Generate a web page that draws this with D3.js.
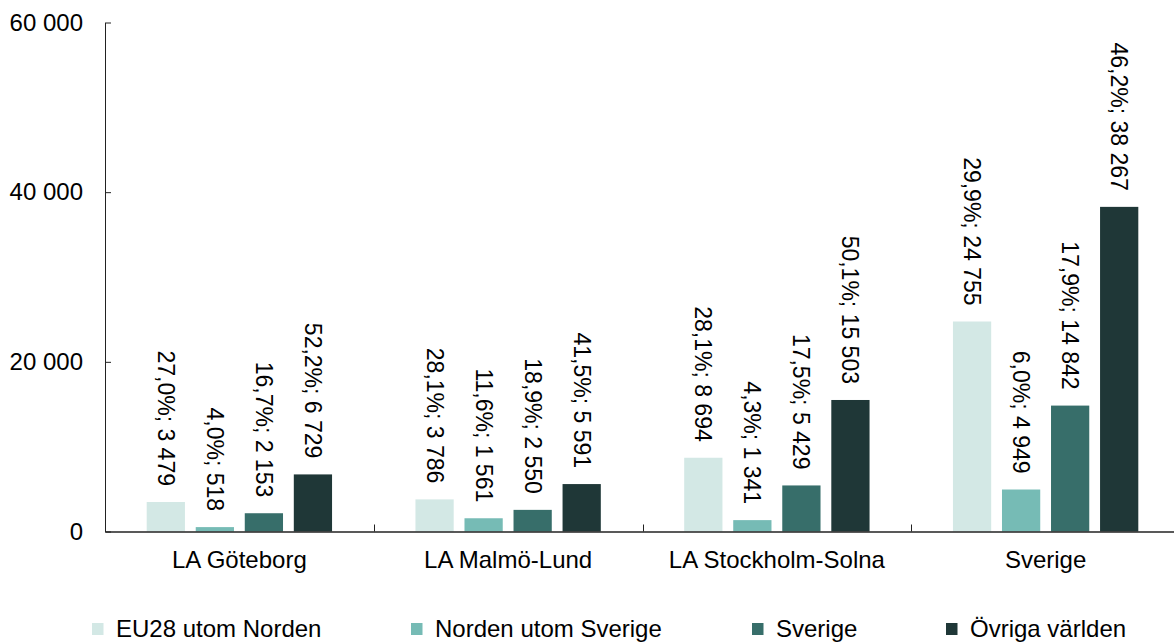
<!DOCTYPE html>
<html>
<head>
<meta charset="utf-8">
<script src="https://cdn.jsdelivr.net/npm/d3@7"></script>
<style>
  html, body { margin: 0; padding: 0; background: #fff; }
  svg { display: block; font-family: "Liberation Sans", Arial, sans-serif; }
</style>
</head>
<body>
<svg id="chart" width="1174" height="643"></svg>
<script>
const categories = ["LA Göteborg", "LA Malmö-Lund", "LA Stockholm-Solna", "Sverige"];
const seriesNames = ["EU28 utom Norden", "Norden utom Sverige", "Sverige", "Övriga världen"];
const seriesColors = ["#d3e8e5", "#76bbb5", "#376e6a", "#1f3737"];
const valuesEU28 = [3479, 3786, 8694, 24755];
const valuesNorden = [518, 1561, 1341, 4949];
const valuesSverige = [2153, 2550, 5429, 14842];
const valuesOvriga = [6729, 5591, 15503, 38267];
const sharesEU28 = [27.0, 28.1, 28.1, 29.9];
const sharesNorden = [4.0, 11.6, 4.3, 6.0];
const sharesSverige = [16.7, 18.9, 17.5, 17.9];
const sharesOvriga = [52.2, 41.5, 50.1, 46.2];
const yTicks = [0, 20000, 40000, 60000];

const allValues = [valuesEU28, valuesNorden, valuesSverige, valuesOvriga];
const allShares = [sharesEU28, sharesNorden, sharesSverige, sharesOvriga];

const locale = d3.formatLocale({ decimal: ",", thousands: " ", grouping: [3], currency: ["", ""] });
const fmtInt = locale.format(",d");
const fmtPct = locale.format(".1f");

const svg = d3.select("#chart");

const x0 = d3.scaleBand().domain(categories).range([105, 1180]).padding(0);
const inset = 41.7;
const x1 = d3.scaleBand().domain(seriesNames).range([inset, x0.bandwidth() - inset]).paddingInner(0.22);
const y = d3.scaleLinear().domain([0, 60000]).range([531.5, 22.5]);

// bars
const data = [];
categories.forEach((c, ci) => {
  seriesNames.forEach((s, si) => {
    data.push({ cat: c, series: s, si, value: allValues[si][ci], share: allShares[si][ci] });
  });
});

svg.append("g").selectAll("rect").data(data).join("rect")
  .attr("x", d => x0(d.cat) + x1(d.series))
  .attr("y", d => y(d.value))
  .attr("width", x1.bandwidth())
  .attr("height", d => y(0) - y(d.value))
  .attr("fill", d => seriesColors[d.si]);

// labels
svg.append("g").selectAll("text").data(data).join("text")
  .attr("transform", d => `translate(${x0(d.cat) + x1(d.series) + x1.bandwidth() / 2},${y(d.value) - 16}) rotate(90)`)
  .attr("text-anchor", "end")
  .attr("dy", "0.35em")
  .attr("font-size", "23px")
  .attr("fill", "#000")
  .text(d => `${fmtPct(d.share)}%; ${fmtInt(d.value)}`);

// y axis
const yAxis = d3.axisLeft(y).tickValues(yTicks).tickFormat(fmtInt)
  .tickSizeInner(-6).tickSizeOuter(0).tickPadding(22);
const gy = svg.append("g").attr("transform", "translate(105,0)").call(yAxis);
gy.selectAll("text").attr("font-size", "24px").attr("fill", "#000").attr("font-family", "Liberation Sans, Arial, sans-serif");
gy.selectAll("line").attr("stroke", "#222");
gy.select(".domain").attr("stroke", "#222");

// x axis
const xAxis = d3.axisBottom(x0).tickValues([]).tickSizeOuter(0);
const gx = svg.append("g").attr("transform", `translate(0,${y(0)})`).call(xAxis);
gx.select(".domain").attr("stroke", "#222").attr("stroke-width", 1.5);
// boundary ticks
svg.append("g").selectAll("line").data(categories.slice(1)).join("line")
  .attr("x1", d => Math.round(x0(d)) + 0.5).attr("x2", d => Math.round(x0(d)) + 0.5)
  .attr("y1", y(0)).attr("y2", y(0) - 7)
  .attr("stroke", "#222");
// category labels
svg.append("g").selectAll("text").data(categories).join("text")
  .attr("x", d => x0(d) + x0.bandwidth() / 2)
  .attr("y", 568)
  .attr("text-anchor", "middle")
  .attr("font-size", "24px")
  .attr("fill", "#000")
  .text(d => d);

// legend
const legendX = [92, 411, 752, 946];
const lg = svg.append("g").selectAll("g").data(seriesNames).join("g")
  .attr("transform", (d, i) => `translate(${legendX[i]},0)`);
lg.append("rect").attr("x", 0).attr("y", 623).attr("width", 11.5).attr("height", 12)
  .attr("fill", (d, i) => seriesColors[i]);
lg.append("text").attr("x", 24).attr("y", 637).attr("font-size", "24px").attr("fill", "#000").text(d => d);
</script>
</body>
</html>
